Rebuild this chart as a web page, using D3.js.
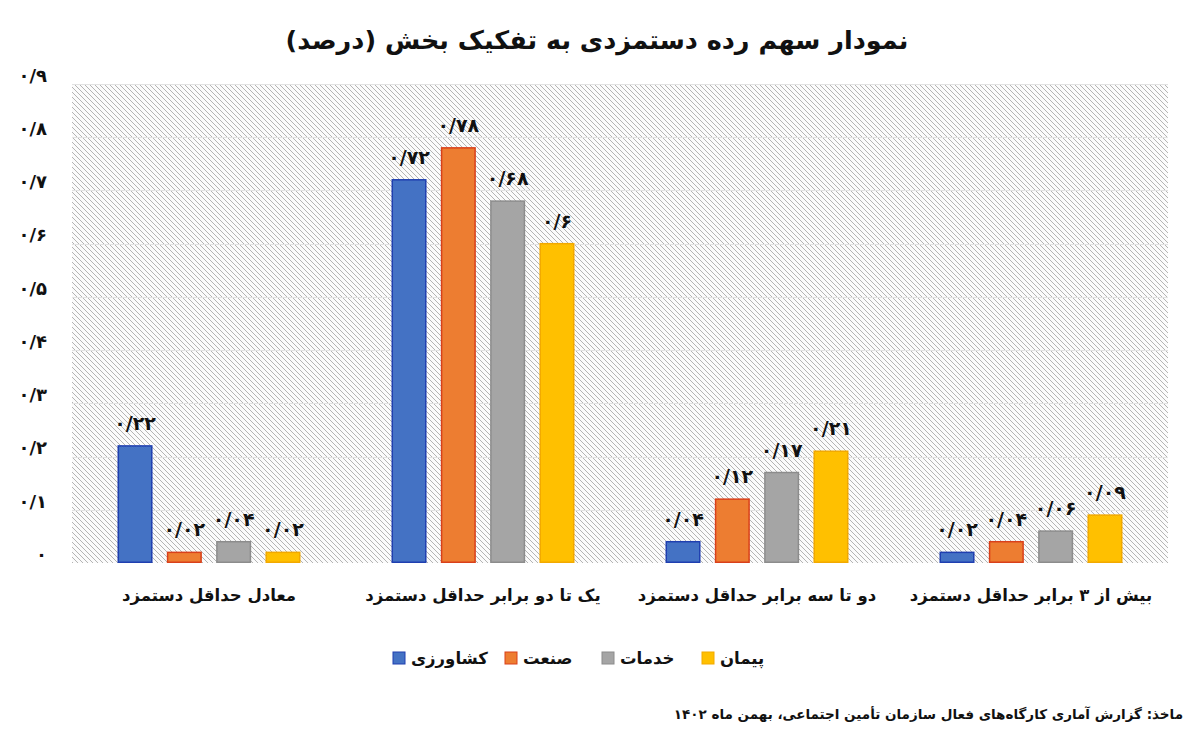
<!DOCTYPE html>
<html><head><meta charset="utf-8">
<script src="https://cdn.jsdelivr.net/npm/d3@7/dist/d3.min.js"></script>
<style>
html,body{margin:0;padding:0;background:#fff;}
svg text{font-family:"DejaVu Sans","Noto Sans",sans-serif;font-weight:bold;fill:#111;}
</style></head>
<body><svg id="c" width="1200" height="739"></svg>
<script>
const title = "نمودار سهم رده دستمزدی به تفکیک بخش (درصد)";
const categories = ["معادل حداقل دستمزد","یک تا دو برابر حداقل دستمزد","دو تا سه برابر حداقل دستمزد","بیش از ۳ برابر حداقل دستمزد"];
const seriesNames = ["کشاورزی","صنعت","خدمات","پیمان"];
const agriculture = [0.22,0.72,0.04,0.02];
const industry   = [0.02,0.78,0.12,0.04];
const services   = [0.04,0.68,0.17,0.06];
const contract   = [0.02,0.60,0.21,0.09];
const tickValues = [0,0.1,0.2,0.3,0.4,0.5,0.6,0.7,0.8,0.9];
const source = "ماخذ: گزارش آماری کارگاه‌های فعال سازمان تأمین اجتماعی، بهمن ماه ۱۴۰۲";

const seriesValues = [agriculture, industry, services, contract];
const fills = ["#4472C4","#ED7D31","#A5A5A5","#FFC000"];
const strokes = ["#1F3FB0","#D9401A","#8C8C8C","#F2A900"];

const pd = "۰۱۲۳۴۵۶۷۸۹";
function fa(v){
  if (v === 0) return "۰";
  let s = d3.format(".2~f")(v).replace(".", "/");
  return s.replace(/[0-9]/g, d => pd[+d]);
}

const svg = d3.select("#c");
const L=72, R=1168, T=84, B=563;

const defs = svg.append("defs");
const pat = defs.append("pattern").attr("id","hatch").attr("patternUnits","userSpaceOnUse")
  .attr("width",5).attr("height",5);
pat.append("rect").attr("width",5).attr("height",5).attr("fill","#fbfbfb");
pat.append("path").attr("d","M-1,-1 L6,6 M-1,4 L1,6 M4,-1 L6,1").attr("stroke","#ababab").attr("stroke-width",0.9);

const x0 = d3.scaleBand().domain(d3.range(categories.length)).range([L,R]).paddingInner(0.28).paddingOuter(0.14);
const x1 = d3.scaleBand().domain(d3.range(seriesNames.length)).range([0,x0.bandwidth()]).paddingInner(0.29).paddingOuter(0.145);
const y = d3.scaleLinear().domain([0,0.9]).range([B,T]);

svg.append("rect").attr("x",L).attr("y",T).attr("width",R-L).attr("height",B-T).attr("fill","url(#hatch)");

// gridlines
svg.append("g").selectAll("line").data(tickValues.filter(t=>t>0)).join("line")
  .attr("x1",L).attr("x2",R).attr("y1",d=>Math.round(y(d))+0.5).attr("y2",d=>Math.round(y(d))+0.5)
  .attr("stroke","#e2e2e2").attr("stroke-width",1);

// y axis labels
const yAxis = d3.axisLeft(y).tickValues(tickValues).tickFormat(fa).tickSize(0).tickPadding(0);
const ga = svg.append("g").attr("transform",`translate(47,0)`).call(yAxis);
ga.select(".domain").remove();
ga.selectAll("text").attr("font-size",18).attr("font-family","DejaVu Sans").attr("font-weight","bold").attr("fill","#111").attr("dy","-0.15em");

// bars
const groups = svg.append("g").selectAll("g").data(categories).join("g")
  .attr("transform",(d,i)=>`translate(${x0(i)},0)`);
groups.selectAll("rect").data((d,i)=>seriesValues.map((s,j)=>({j,v:s[i]}))).join("rect")
  .attr("x",d=>x1(d.j)+0.75).attr("width",x1.bandwidth()-1.5)
  .attr("y",d=>y(d.v)).attr("height",d=>B-y(d.v)-0.75)
  .attr("fill",d=>fills[d.j]).attr("stroke",d=>strokes[d.j]).attr("stroke-width",1.5);
groups.selectAll("text.v").data((d,i)=>seriesValues.map((s,j)=>({j,v:s[i]}))).join("text")
  .attr("class","v").attr("x",d=>x1(d.j)+x1.bandwidth()/2).attr("y",d=>y(d.v)-16)
  .attr("text-anchor","middle").attr("font-size",19).text(d=>fa(d.v));

// category labels
svg.append("g").selectAll("text").data(categories).join("text")
  .attr("x",(d,i)=>x0(i)+x0.bandwidth()/2).attr("y",601).attr("text-anchor","middle")
  .attr("font-size",16.5).attr("direction","rtl").text(d=>d);

// title
svg.append("text").attr("x",597).attr("y",49).attr("text-anchor","middle").attr("font-size",25.5)
  .attr("direction","rtl").text(title);

// legend
const legX = [393,505,602,702];
const lg = svg.append("g").selectAll("g").data(seriesNames).join("g")
  .attr("transform",(d,i)=>`translate(${legX[i]},652)`);
lg.append("rect").attr("width",12).attr("height",12).attr("fill",(d,i)=>fills[i]).attr("stroke",(d,i)=>strokes[i]).attr("stroke-width",1);
lg.append("text").attr("x",18).attr("y",12).attr("font-size",16.5).attr("text-anchor","start").attr("direction","ltr").text(d=>d);

// source
svg.append("text").attr("x",1183).attr("y",719).attr("text-anchor","start").attr("direction","rtl")
  .attr("font-size",13.5).text(source);
</script></body></html>
